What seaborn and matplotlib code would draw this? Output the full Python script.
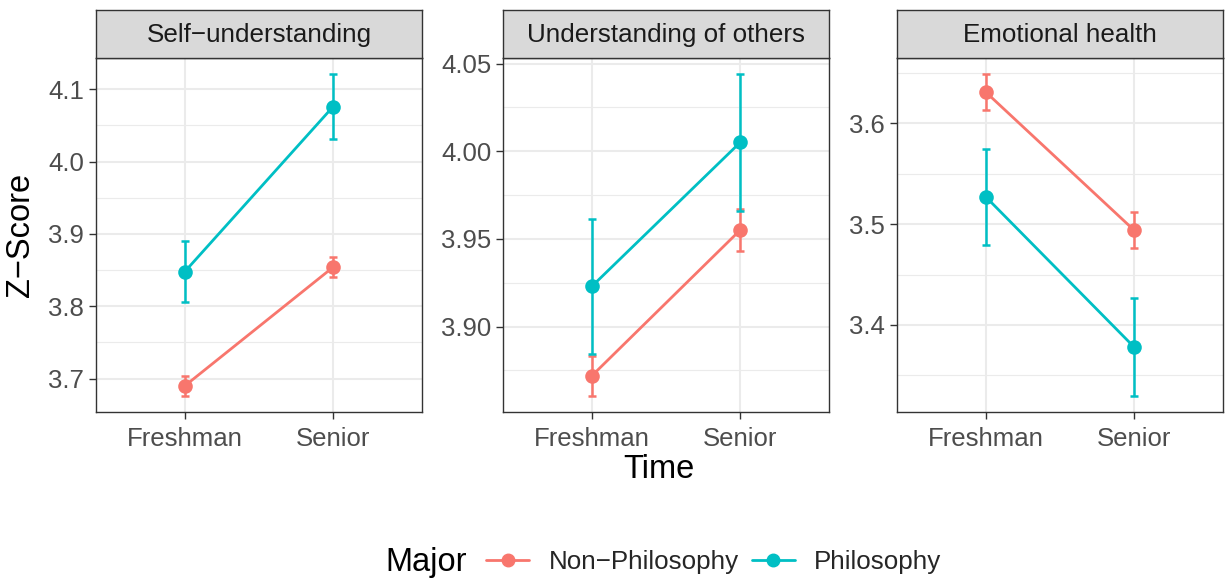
import numpy as np
import pandas as pd
import matplotlib
matplotlib.use("Agg")
import matplotlib.pyplot as plt
from matplotlib.lines import Line2D
from matplotlib.ticker import FixedLocator
import seaborn as sns

# ---- data -------------------------------------------------------------
measures = ["Self\u2212understanding", "Understanding of others", "Emotional health"]
times = ["Freshman", "Senior"]
majors = ["Non\u2212Philosophy", "Philosophy"]

non_phil_mean = [[3.690, 3.854], [3.872, 3.955], [3.631, 3.494]]
non_phil_se = [[0.014, 0.014], [0.0115, 0.012], [0.018, 0.018]]
phil_mean = [[3.848, 4.076], [3.923, 4.005], [3.527, 3.378]]
phil_se = [[0.042, 0.045], [0.0385, 0.039], [0.048, 0.0485]]

y_ticks = [[3.7, 3.8, 3.9, 4.0, 4.1], [3.90, 3.95, 4.00, 4.05], [3.4, 3.5, 3.6]]
y_minor = [[3.65, 3.75, 3.85, 3.95, 4.05], [3.875, 3.925, 3.975, 4.025], [3.35, 3.45, 3.55, 3.65]]
y_fmt = ["{:.1f}", "{:.2f}", "{:.1f}"]

rows = []
for i, m in enumerate(measures):
    for j, t in enumerate(times):
        rows.append(dict(measure=m, time=t, major=majors[0],
                         score=non_phil_mean[i][j], se=non_phil_se[i][j]))
        rows.append(dict(measure=m, time=t, major=majors[1],
                         score=phil_mean[i][j], se=phil_se[i][j]))
df = pd.DataFrame(rows)

# ---- style ------------------------------------------------------------
sns.set_theme(style="white")
plt.rcParams["font.family"] = ["Liberation Sans", "DejaVu Sans"]

palette = {majors[0]: "#F8766D", majors[1]: "#00BFC4"}
grid_col = "#EBEBEB"
border_col = "#333333"

W, H = 1225, 578
fig = plt.figure(figsize=(W / 100, H / 100), dpi=100)

def px_axes(x0, y0, x1, y1):
    return fig.add_axes([x0 / W, 1 - y1 / H, (x1 - x0) / W, (y1 - y0) / H])

panel_x = [(96, 422), (503, 829), (897, 1223)]
panel_top, panel_bot, strip_top = 58, 412, 10

tick_fs = 18.5
strip_fs = 18.7
title_fs = 23.5

for i, m in enumerate(measures):
    x0, x1 = panel_x[i]
    ax = px_axes(x0, panel_top, x1, panel_bot)
    sub = df[df.measure == m]

    # error bars
    for mj in majors:
        s = sub[sub.major == mj]
        ax.errorbar(np.arange(len(times)), s.score.values, yerr=s.se.values,
                    fmt="none", ecolor=palette[mj], elinewidth=1.8,
                    capsize=2.8, capthick=1.8, zorder=3)

    sns.pointplot(data=sub, x="time", y="score", hue="major", order=times,
                  hue_order=majors, palette=palette, errorbar=None,
                  markers="o", markersize=9, linewidth=2.0,
                  ax=ax, legend=False, zorder=4)

    lo = (sub.score - sub.se).min()
    hi = (sub.score + sub.se).max()
    r = hi - lo
    ax.set_ylim(lo - 0.05 * r, hi + 0.05 * r)
    ax.set_xlim(-0.6, len(times) - 0.4)

    ax.yaxis.set_major_locator(FixedLocator(y_ticks[i]))
    ax.yaxis.set_minor_locator(FixedLocator(y_minor[i]))
    ax.set_yticklabels([y_fmt[i].format(v) for v in y_ticks[i]])

    ax.grid(True, which="major", color=grid_col, linewidth=1.5, zorder=0)
    ax.grid(True, which="minor", axis="y", color=grid_col, linewidth=0.8, zorder=0)
    ax.set_axisbelow(True)

    ax.tick_params(axis="both", which="major", length=5, width=1.0,
                   color=border_col, labelcolor="#4D4D4D", labelsize=tick_fs,
                   pad=3.5, left=True, bottom=True)
    ax.tick_params(axis="x", which="major", pad=6)
    ax.tick_params(axis="both", which="minor", length=0)
    for sp in ax.spines.values():
        sp.set_color(border_col)
        sp.set_linewidth(1.0)
        sp.set_visible(True)
    ax.set_xlabel("")
    ax.set_ylabel("")
    ax.set_facecolor("white")

    # facet strip
    sax = px_axes(x0, strip_top, x1, panel_top)
    sax.set_facecolor("#D9D9D9")
    sax.set_xticks([])
    sax.set_yticks([])
    for sp in sax.spines.values():
        sp.set_color(border_col)
        sp.set_linewidth(1.0)
        sp.set_visible(True)
    sax.text(0.5, 0.47, m, transform=sax.transAxes, ha="center", va="center",
             fontsize=strip_fs, color="#1A1A1A")

# axis titles
fig.text(21 / W, 1 - 235 / H, "Z\u2212Score", rotation=90, ha="center",
         va="center", fontsize=title_fs, color="black")
fig.text(659 / W, 1 - 470 / H, "Time", ha="center", va="center",
         fontsize=title_fs, color="black")

# legend
fig.text(385 / W, 1 - 562 / H, "Major", ha="left", va="center",
         fontsize=title_fs, color="black")
handles = [Line2D([0], [0], color=palette[mj], linewidth=2.0, marker="o",
                  markersize=9) for mj in majors]
fig.legend(handles, majors, loc="center left",
           bbox_to_anchor=(486 / W, 1 - 562 / H), ncol=2, frameon=False,
           fontsize=strip_fs, handlelength=1.66, handletextpad=0.75,
           columnspacing=0.5, borderaxespad=0, borderpad=0)

fig.savefig("out.png", dpi=100, facecolor="white")
